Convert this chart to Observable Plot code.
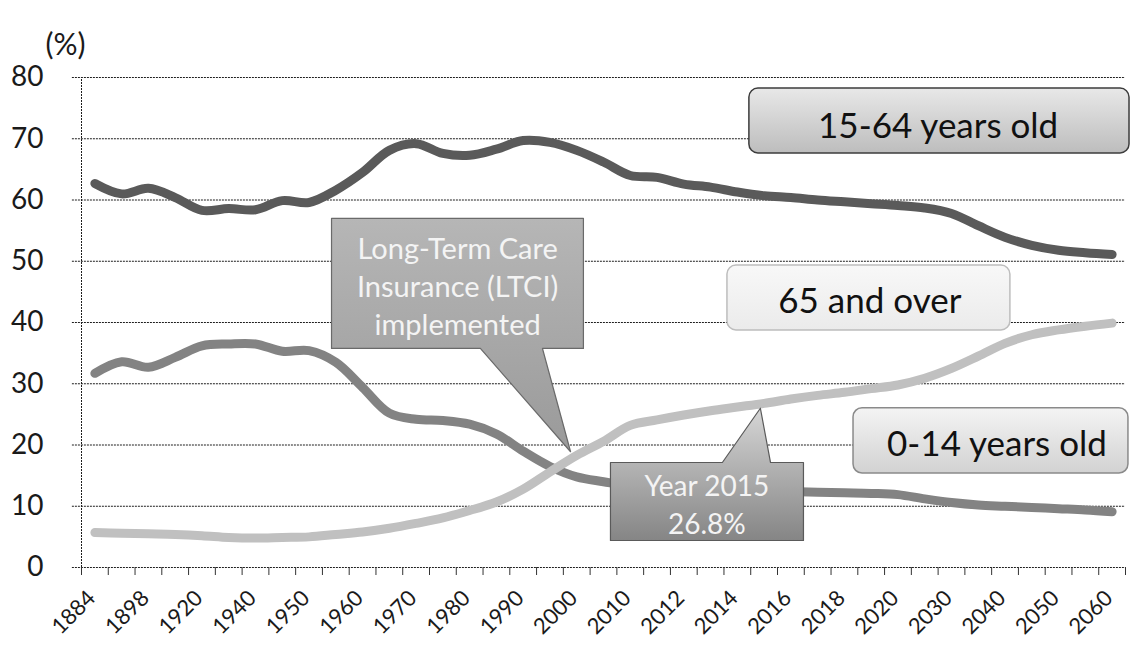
<!DOCTYPE html>
<html>
<head>
<meta charset="utf-8">
<script src="https://cdn.jsdelivr.net/npm/d3@7"></script>
<script src="https://cdn.jsdelivr.net/npm/@observablehq/plot@0.6"></script>
<style>
  body { margin: 0; background: #fff; }
  #chart svg { display: block; }
</style>
</head>
<body>
<div id="chart"></div>
<script>
// Survey / projection years (every other one is labelled on the axis)
const years = ["1884","1888","1898","1908","1920","1930","1940","1947","1950","1955",
  "1960","1965","1970","1975","1980","1985","1990","1995","2000","2005",
  "2010","2011","2012","2013","2014","2015","2016","2017","2018","2019",
  "2020","2025","2030","2035","2040","2045","2050","2055","2060"];

// Share of total population by age group (%)
const age0to14 = [31.7,33.6,32.7,34.3,36.2,36.5,36.5,35.3,35.4,33.5,
  29.4,25.2,24.2,24.0,23.4,21.8,19.0,16.5,14.8,14.0,
  13.3,13.1,13.0,12.9,12.8,12.6,12.4,12.3,12.2,12.1,
  11.9,11.2,10.6,10.2,10.0,9.8,9.6,9.4,9.1];
const age15to64 = [62.7,61.0,61.9,60.4,58.3,58.6,58.4,59.9,59.6,61.6,
  64.5,68.1,69.2,67.6,67.3,68.3,69.7,69.4,68.1,66.2,
  64.0,63.7,62.6,62.1,61.3,60.7,60.4,60.0,59.7,59.4,
  59.1,58.7,57.8,55.8,53.9,52.6,51.8,51.4,51.1];
const age65plus = [5.7,5.6,5.5,5.4,5.2,4.9,4.8,4.9,5.0,5.4,
  5.8,6.4,7.2,8.1,9.3,10.7,12.8,15.6,18.3,20.6,
  23.2,24.1,24.9,25.6,26.2,26.8,27.5,28.1,28.6,29.2,
  29.8,30.9,32.5,34.5,36.6,38.0,38.8,39.4,39.9];

const seriesNames = ["0-14 years old", "15-64 years old", "65 and over"];
const yTicks = [0, 10, 20, 30, 40, 50, 60, 70, 80];
const labelledYears = years.filter((_, i) => i % 2 === 0);
const ltciText = ["Long-Term Care", "Insurance (LTCI)", "implemented"];

const font = "Lato, 'Open Sans', sans-serif";
const pos = (year) => years.indexOf(year) + 0.5;   // centre of a year's category

const series = [
  {name: seriesNames[0], values: age0to14, color: "#838383"},
  {name: seriesNames[2], values: age65plus, color: "#c0c0c0"},
  {name: seriesNames[1], values: age15to64, color: "#5a5a5a"}
];
const lineMarks = series.map(s =>
  Plot.line(years.map((y, i) => ({x: i + 0.5, v: s.values[i]})), {
    x: "x", y: "v", stroke: s.color, strokeWidth: 9,
    strokeLinecap: "round", strokeLinejoin: "round", curve: "catmull-rom"
  })
);

// Series label boxes, in chart units
const labelBoxes = [
  {x1: 24.95, x2: 39.15, y1: 67.6, y2: 78.2, cx: 32.0, cy: 72.0, text: seriesNames[1],
   fill: "url(#g1564)", stroke: "#3c3c3c"},
  {x1: 24.13, x2: 34.70, y1: 38.7, y2: 49.3, cx: 29.45, cy: 43.4, text: seriesNames[2],
   fill: "url(#g65)", stroke: "#bdbdbd"},
  {x1: 28.84, x2: 39.11, y1: 15.35, y2: 26.0, cx: 34.2, cy: 20.1, text: seriesNames[0],
   fill: "url(#g014)", stroke: "#8a8a8a"}
];

// Callout pointing at the year LTCI started
const ltciTip = {x: pos("2000") - 0.23, y: 18.9};
const ltciShape = [
  [9.34, 57.0], [18.75, 57.0], [18.75, 35.76], [17.22, 35.76],
  [ltciTip.x, ltciTip.y], [14.9, 35.76], [9.34, 35.76], [9.34, 57.0]
].map(([x, y]) => ({x, y}));

// Callout for the 2015 share of people aged 65 and over
const i2015 = years.indexOf("2015");
const tip2015 = {x: pos("2015") - 0.14, y: age65plus[i2015] - 0.8};
const shape2015 = [
  [19.76, 17.14], [23.94, 17.14], [tip2015.x, tip2015.y], [25.74, 17.14],
  [26.97, 17.14], [26.97, 4.41], [19.76, 4.41], [19.76, 17.14]
].map(([x, y]) => ({x, y}));

const grid = {stroke: "#1e1e1e", strokeWidth: 1, strokeDasharray: "2,1"};

const chart = Plot.plot({
  width: 1130,
  height: 646,
  marginLeft: 81,
  marginRight: 5,
  marginTop: 77,
  marginBottom: 79,
  style: {fontFamily: font, color: "#1a1a1a", background: "#fff"},
  x: {domain: [0, 39], axis: null},
  y: {domain: [0, 80], axis: null},
  marks: [
    // dotted gridlines (extend a little left of the axis as tick marks)
    Plot.ruleY(yTicks, {x1: -0.34, x2: 39, ...grid}),
    Plot.ruleX([0], {y1: 0, y2: 80, ...grid}),
    // category boundary ticks
    Plot.axisX(d3.range(0, 40), {tickSize: 8, tickFormat: () => "", stroke: "#333", label: null}),
    // year labels
    Plot.axisX(labelledYears.map(pos), {
      tickSize: 0, tickPadding: 27, tickRotate: -45, fontSize: 22, dx: -3,
      tickFormat: v => years[Math.round(v - 0.5)], label: null
    }),
    Plot.axisY(yTicks, {tickSize: 0, tickPadding: 38, fontSize: 28, label: null}),
    Plot.text(["(%)"], {frameAnchor: "top-left", dx: -16, dy: -44, fontSize: 30, textAnchor: "middle"}),
    ...lineMarks,
    // series labels
    Plot.rect(labelBoxes, {x1: "x1", x2: "x2", y1: "y1", y2: "y2", rx: 9,
      fill: d => d.fill, stroke: d => d.stroke, strokeWidth: 1.5}),
    Plot.text(labelBoxes, {x: "cx", y: "cy", text: "text", fontSize: 35, fill: "#111"}),
    // callouts
    Plot.line(ltciShape, {x: "x", y: "y", curve: "linear", fill: "url(#gLtci)",
      stroke: "#6a6a6a", strokeWidth: 1.2}),
    Plot.text([ltciText.join("\n")], {x: 14.05, y: 46.1, fontSize: 29, lineHeight: 1.31, fill: "#f4f4f4"}),
    Plot.line(shape2015, {x: "x", y: "y", curve: "linear", fill: "url(#g2015)",
      stroke: "#5a5a5a", strokeWidth: 1.2}),
    Plot.text([`Year ${years[i2015]}\n${age65plus[i2015]}%`], {
      x: 23.36, y: 10.55, fontSize: 28, lineHeight: 1.36, fill: "#f4f4f4"})
  ]
});

// gradient fills used by the boxes and callouts
const defs = d3.select(chart).insert("defs", ":first-child");
const grad = (id, top, bottom) => {
  const g = defs.append("linearGradient").attr("id", id)
    .attr("x1", 0).attr("y1", 0).attr("x2", 0).attr("y2", 1);
  g.append("stop").attr("offset", "0%").attr("stop-color", top);
  g.append("stop").attr("offset", "100%").attr("stop-color", bottom);
};
grad("g1564", "#e8e8e8", "#bdbdbd");
grad("g65", "#f8f8f8", "#ebebeb");
grad("g014", "#f4f4f4", "#d2d2d2");
grad("gLtci", "#b6b6b6", "#9a9a9a");
grad("g2015", "#d6d6d6", "#858585");

document.getElementById("chart").appendChild(chart);
</script>
</body>
</html>
